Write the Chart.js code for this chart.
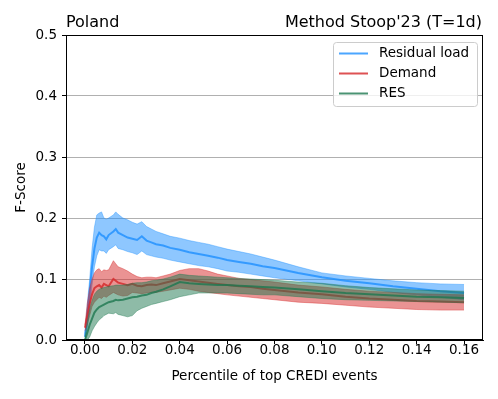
<!DOCTYPE html>
<html>
<head>
<meta charset="utf-8">
<script src="https://cdn.jsdelivr.net/npm/chart.js@4.4.1/dist/chart.umd.min.js"></script>
<style>
html, body { margin: 0; padding: 0; background: #fff; }
</style>
</head>
<body>
<canvas id="myChart" width="498" height="399"></canvas>
<script>
// x values (percentile of top CREDI events)
const xVals = [0, 0.001, 0.002, 0.003, 0.004, 0.005, 0.006, 0.007, 0.008, 0.009, 0.010,
    0.012, 0.013, 0.014,
    0.016, 0.018, 0.020, 0.022, 0.024, 0.026, 0.028, 0.030,
    0.033, 0.036,
    0.040, 0.044, 0.048, 0.052, 0.056, 0.060,
    0.065, 0.070, 0.075, 0.080,
    0.090, 0.100, 0.110, 0.120, 0.130, 0.140, 0.150, 0.160];

// Residual load
const resMean = [0.005, 0.04, 0.08, 0.12, 0.15, 0.168, 0.176, 0.172, 0.17, 0.165, 0.172,
    0.178, 0.182, 0.176,
    0.172, 0.168, 0.166, 0.164, 0.17, 0.163, 0.16, 0.157,
    0.155, 0.151,
    0.148, 0.144, 0.141, 0.138, 0.135, 0.131,
    0.128, 0.125, 0.121, 0.118,
    0.11, 0.103, 0.097, 0.093, 0.088, 0.084, 0.08, 0.077];
const resHigh = [0.01, 0.06, 0.1, 0.15, 0.185, 0.205, 0.208, 0.21, 0.2, 0.198, 0.2,
    0.205, 0.21, 0.206,
    0.2, 0.197, 0.193, 0.19, 0.194, 0.186, 0.182, 0.178,
    0.174, 0.17,
    0.167, 0.163, 0.16, 0.157, 0.153, 0.149,
    0.145, 0.141, 0.136, 0.131,
    0.12, 0.11, 0.105, 0.101, 0.097, 0.094, 0.092, 0.091];
const resLow = [0.0, 0.02, 0.05, 0.09, 0.12, 0.138, 0.148, 0.146, 0.146, 0.142, 0.148,
    0.153, 0.156, 0.15,
    0.148, 0.145, 0.143, 0.14, 0.146, 0.14, 0.138, 0.136,
    0.134, 0.131,
    0.128, 0.125, 0.122, 0.12, 0.117, 0.113,
    0.111, 0.108, 0.105, 0.102,
    0.097, 0.092, 0.087, 0.083, 0.078, 0.074, 0.07, 0.066];

// Demand
const demMean = [0.02, 0.04, 0.06, 0.075, 0.085, 0.088, 0.09, 0.086, 0.092, 0.09, 0.088,
    0.1, 0.097, 0.094,
    0.092, 0.09, 0.092, 0.089, 0.088, 0.09, 0.091, 0.09,
    0.093, 0.096,
    0.1, 0.098, 0.096, 0.094, 0.092, 0.09,
    0.088, 0.087, 0.084, 0.082,
    0.078, 0.075, 0.071, 0.068, 0.066, 0.064, 0.063, 0.062];
const demHigh = [0.025, 0.06, 0.085, 0.1, 0.11, 0.115, 0.117, 0.112, 0.115, 0.114, 0.115,
    0.13, 0.125, 0.12,
    0.117, 0.113, 0.108, 0.104, 0.102, 0.103, 0.103, 0.102,
    0.105, 0.108,
    0.114, 0.117, 0.117, 0.113, 0.108, 0.105,
    0.101, 0.099, 0.097, 0.095,
    0.09, 0.087, 0.083, 0.08, 0.078, 0.076, 0.075, 0.074];
const demLow = [0.015, 0.025, 0.04, 0.055, 0.062, 0.066, 0.07, 0.068, 0.072, 0.07, 0.073,
    0.078, 0.076, 0.074,
    0.072, 0.073, 0.078, 0.077, 0.076, 0.077, 0.078, 0.078,
    0.08, 0.082,
    0.085, 0.083, 0.08, 0.078, 0.076, 0.074,
    0.072, 0.07, 0.068, 0.066,
    0.062, 0.06, 0.057, 0.054, 0.052, 0.05, 0.049, 0.049];

// RES
const renMean = [0.0, 0.012, 0.025, 0.035, 0.045, 0.05, 0.054, 0.056, 0.058, 0.06, 0.062,
    0.064, 0.066, 0.065,
    0.066, 0.068, 0.07, 0.071, 0.073, 0.074, 0.077, 0.079,
    0.083, 0.088,
    0.095, 0.093, 0.092, 0.091, 0.09, 0.09,
    0.089, 0.088, 0.087, 0.086,
    0.083, 0.08, 0.077, 0.075, 0.073, 0.071, 0.07, 0.069];
const renHigh = [0.005, 0.03, 0.05, 0.065, 0.075, 0.08, 0.083, 0.085, 0.086, 0.087, 0.088,
    0.089, 0.09, 0.09,
    0.09, 0.091, 0.093, 0.094, 0.094, 0.095, 0.097, 0.098,
    0.1, 0.103,
    0.108, 0.106, 0.105, 0.104, 0.103, 0.102,
    0.101, 0.1, 0.099, 0.098,
    0.095, 0.093, 0.089, 0.086, 0.084, 0.082, 0.081, 0.08];
const renLow = [0.0, 0.0, 0.005, 0.015, 0.022, 0.028, 0.033, 0.036, 0.04, 0.042, 0.044,
    0.043, 0.045, 0.042,
    0.04, 0.038, 0.04, 0.048, 0.052, 0.055, 0.058, 0.06,
    0.063, 0.066,
    0.071, 0.074, 0.077, 0.077, 0.077, 0.077,
    0.076, 0.075, 0.074, 0.074,
    0.071, 0.068, 0.066, 0.065, 0.064, 0.063, 0.062, 0.061];

// ticks
const xTicks = [0, 0.02, 0.04, 0.06, 0.08, 0.10, 0.12, 0.14, 0.16];
const yTicks = [0, 0.1, 0.2, 0.3, 0.4, 0.5];

const seriesNames = ['Residual load', 'Demand', 'RES'];
const seriesRgb = ['30,144,255', '214,39,40', '30,120,80'];

function toPts(arr) {
    return arr.map(function (v, i) { return { x: xVals[i], y: v }; });
}

// datasets: low, high (filled to low), mean -- per series
let datasets = [];
let allSeries = [[resMean, resLow, resHigh], [demMean, demLow, demHigh], [renMean, renLow, renHigh]];
let total = allSeries.length * 3;
for (let s = 0; s < allSeries.length; s++) {
    let rgb = seriesRgb[s];
    let lowIndex = datasets.length;
    datasets.push({
        label: seriesNames[s] + ' low',
        data: toPts(allSeries[s][1]),
        borderColor: 'rgba(' + rgb + ',0.4)',
        borderWidth: 1,
        pointRadius: 0,
        fill: false,
        order: total - datasets.length
    });
    datasets.push({
        label: seriesNames[s] + ' high',
        data: toPts(allSeries[s][2]),
        borderColor: 'rgba(' + rgb + ',0.4)',
        backgroundColor: 'rgba(' + rgb + ',0.5)',
        borderWidth: 1,
        pointRadius: 0,
        fill: lowIndex,
        order: total - datasets.length
    });
    datasets.push({
        label: seriesNames[s],
        data: toPts(allSeries[s][0]),
        borderColor: 'rgba(' + rgb + ',0.8)',
        borderWidth: 2,
        pointRadius: 0,
        fill: false,
        order: total - datasets.length
    });
}

// titles, spines and legend
const extras = {
    id: 'extras',
    afterDatasetsDraw(chart) {
        const ctx = chart.ctx;
        const a = chart.chartArea;
        ctx.save();
        ctx.strokeStyle = '#000';
        ctx.lineWidth = 1;
        ctx.strokeRect(Math.round(a.left) + 0.5, Math.round(a.top) + 0.5,
            Math.round(a.right - a.left) - 1, Math.round(a.bottom - a.top) - 1);

        // legend box
        let bx = 333, by = 42, bw = 144, bh = 64;
        ctx.fillStyle = 'rgba(255,255,255,0.8)';
        ctx.strokeStyle = '#cccccc';
        ctx.beginPath();
        ctx.roundRect(bx + 0.5, by + 0.5, bw, bh, 3);
        ctx.fill();
        ctx.stroke();
        ctx.font = '13.5px "DejaVu Sans"';
        ctx.textBaseline = 'middle';
        ctx.textAlign = 'left';
        for (let i = 0; i < seriesNames.length; i++) {
            let ly = by + 11.5 + i * 20;
            ctx.strokeStyle = 'rgba(' + seriesRgb[i] + ',0.8)';
            ctx.lineWidth = 2;
            ctx.beginPath();
            ctx.moveTo(339, ly);
            ctx.lineTo(368, ly);
            ctx.stroke();
            ctx.fillStyle = '#000';
            ctx.fillText(seriesNames[i], 379, ly);
        }

        // titles
        ctx.font = '16px "DejaVu Sans"';
        ctx.textBaseline = 'alphabetic';
        ctx.fillStyle = '#000';
        ctx.textAlign = 'left';
        ctx.fillText('Poland', a.left, 27);
        ctx.textAlign = 'right';
        ctx.fillText("Method Stoop'23 (T=1d)", a.right - 1, 27);
        ctx.restore();
    }
};

const ctx = document.getElementById('myChart').getContext('2d');
const myChart = new Chart(ctx, {
    type: 'line',
    data: { datasets: datasets },
    plugins: [extras],
    options: {
        responsive: false,
        animation: false,
        devicePixelRatio: 1,
        layout: { padding: { top: 35, right: 15, bottom: 0, left: 0 } },
        plugins: {
            legend: { display: false },
            tooltip: { enabled: false },
            filler: { propagate: false }
        },
        scales: {
            x: {
                type: 'linear',
                min: -0.008,
                max: 0.168,
                afterBuildTicks: (scale) => {
                    scale.ticks = xTicks.map(v => ({ value: v }));
                },
                afterFit: (scale) => { scale.height = 59; },
                ticks: {
                    color: '#000',
                    font: { family: 'DejaVu Sans', size: 13.5 },
                    padding: -2,
                    maxRotation: 0,
                    callback: (v) => v.toFixed(2)
                },
                grid: {
                    drawOnChartArea: false,
                    drawTicks: true,
                    tickLength: 4,
                    tickColor: '#000'
                },
                border: { display: true, color: '#000', width: 1 },
                title: {
                    display: true,
                    text: 'Percentile of top CREDI events',
                    color: '#000',
                    font: { family: 'DejaVu Sans', size: 13.5 },
                    padding: { top: 0, bottom: 14 }
                }
            },
            y: {
                type: 'linear',
                min: 0,
                max: 0.5,
                afterBuildTicks: (scale) => {
                    scale.ticks = yTicks.map(v => ({ value: v }));
                },
                afterFit: (scale) => { scale.width = 66; },
                ticks: {
                    color: '#000',
                    font: { family: 'DejaVu Sans', size: 13.5 },
                    padding: 5,
                    callback: (v) => v.toFixed(1)
                },
                grid: {
                    color: (c) => (c.tick && c.tick.value > 0 && c.tick.value < 0.5) ? '#b0b0b0' : 'rgba(0,0,0,0)',
                    lineWidth: 1,
                    drawTicks: true,
                    tickLength: 4,
                    tickColor: '#000'
                },
                border: { display: true, color: '#000', width: 1 },
                title: {
                    display: true,
                    text: 'F-Score',
                    color: '#000',
                    font: { family: 'DejaVu Sans', size: 13.5 },
                    padding: { top: 13, bottom: 0 }
                }
            }
        }
    }
});
</script>
</body>
</html>
